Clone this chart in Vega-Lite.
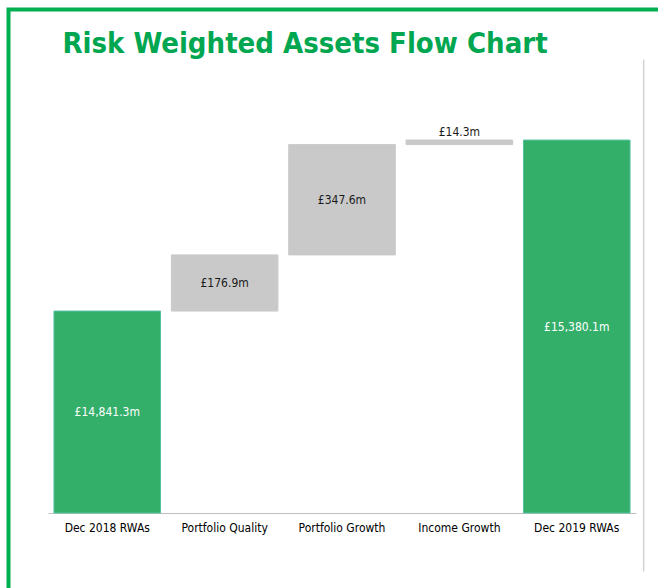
{
  "$schema": "https://vega.github.io/schema/vega-lite/v6.json",
  "autosize": {"type": "none"},
  "width": 660,
  "height": 590,
  "padding": {"left": 8.5, "top": 9.5, "right": -10.5, "bottom": -11.5},
  "background": "white",
  "config": {
    "view": {"stroke": "#00B050", "strokeWidth": 4},
    "font": "DejaVu Sans Condensed"
  },
  "title": {
    "text": "Risk Weighted Assets Flow Chart",
    "anchor": "start",
    "frame": "group",
    "orient": "top",
    "offset": -72,
    "baseline": "alphabetic",
    "dx": 54,
    "font": "DejaVu Sans Condensed",
    "fontWeight": "bold",
    "fontSize": 29,
    "color": "#00A650"
  },
  "data": {
    "values": [
      {"cat": "Dec 2018 RWAs", "start": 0, "end": 14841.3, "label": "£14,841.3m", "type": "total"},
      {"cat": "Portfolio Quality", "start": 14841.3, "end": 15018.2, "label": "£176.9m", "type": "change"},
      {"cat": "Portfolio Growth", "start": 15018.2, "end": 15365.8, "label": "£347.6m", "type": "change"},
      {"cat": "Income Growth", "start": 15365.8, "end": 15380.1, "label": "£14.3m", "type": "change"},
      {"cat": "Dec 2019 RWAs", "start": 0, "end": 15380.1, "label": "£15,380.1m", "type": "total"}
    ]
  },
  "encoding": {
    "x": {
      "field": "cat",
      "type": "nominal",
      "sort": null,
      "scale": {"range": [39.6, 627.4], "paddingInner": 0.092, "paddingOuter": 0.05},
      "axis": {
        "title": null,
        "orient": "bottom",
        "offset": -86.5,
        "domainColor": "#BFBFBF",
        "domainWidth": 1,
        "ticks": false,
        "labelAngle": 0,
        "labelPadding": 9,
        "labelFont": "DejaVu Sans Condensed",
        "labelFontSize": 12,
        "labelColor": "#000000"
      }
    }
  },
  "layer": [
    {
      "mark": {"type": "bar", "strokeWidth": 1},
      "encoding": {
        "y": {
          "field": "end",
          "type": "quantitative",
          "scale": {"domain": [14205, 15791.5], "range": [503.5, 0], "clamp": true, "zero": false, "nice": false},
          "axis": null
        },
        "y2": {"field": "start"},
        "fill": {
          "field": "type",
          "type": "nominal",
          "scale": {"domain": ["total", "change"], "range": ["#34AF6A", "#C9C9C9"]},
          "legend": null
        },
        "stroke": {
          "field": "type",
          "type": "nominal",
          "scale": {"domain": ["total", "change"], "range": ["#55C2A2", "#C9C9C9"]},
          "legend": null
        }
      }
    },
    {
      "transform": [
        {"filter": "datum.end - datum.start > 50"},
        {"calculate": "datum.type == 'total' ? (14205 + datum.end) / 2 : (datum.start + datum.end) / 2", "as": "mid"}
      ],
      "mark": {"type": "text", "font": "DejaVu Sans Condensed", "fontSize": 12, "baseline": "middle", "align": "center"},
      "encoding": {
        "y": {"field": "mid", "type": "quantitative", "scale": {"domain": [14205, 15791.5], "range": [503.5, 0], "clamp": true, "zero": false, "nice": false}, "axis": null},
        "text": {"field": "label"},
        "color": {
          "field": "type",
          "type": "nominal",
          "scale": {"domain": ["total", "change"], "range": ["#FFFFFF", "#1A1A1A"]},
          "legend": null
        }
      }
    },
    {
      "transform": [{"filter": "datum.end - datum.start <= 50"}],
      "mark": {"type": "text", "font": "DejaVu Sans Condensed", "fontSize": 12, "baseline": "alphabetic", "align": "center", "dy": -4, "color": "#1A1A1A"},
      "encoding": {
        "y": {"field": "end", "type": "quantitative", "scale": {"domain": [14205, 15791.5], "range": [503.5, 0], "clamp": true, "zero": false, "nice": false}, "axis": null},
        "text": {"field": "label"}
      }
    },
    {
      "mark": {"type": "point", "opacity": 0},
      "encoding": {
        "y": {
          "field": "end",
          "type": "quantitative",
          "scale": {"domain": [0, 20000], "range": [561.5, 49.5], "zero": false, "nice": false},
          "axis": {
            "orient": "right",
            "offset": -25.2,
            "title": null,
            "labels": false,
            "ticks": false,
            "grid": false,
            "domainColor": "#BFBFBF",
            "domainWidth": 1
          }
        }
      }
    }
  ],
  "resolve": {"scale": {"y": "independent", "color": "independent"}, "axis": {"y": "independent"}}
}
